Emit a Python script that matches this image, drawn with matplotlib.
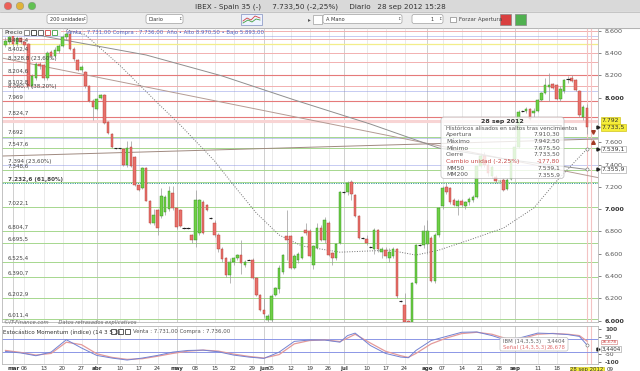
import numpy as np
import matplotlib
matplotlib.use('Agg')
import matplotlib.pyplot as plt
import matplotlib.transforms as mtransforms
from matplotlib.patches import Rectangle, FancyBboxPatch

W, H = 640, 371

# IBEX 35 diario, 28 feb - 28 sep 2012 (todos los dias laborables)
opn = [8470, 8500, 8550, 8480, 8530, 8500, 8480, 8100, 8180, 8300, 8290, 8175, 8410, 8370, 8420, 8460, 8540, 8570,
       8440, 8340, 8250, 8230, 8100, 7970, 7900, 8000, 8020, 7780, 7670, 7545, 7545, 7535, 7400, 7555, 7470, 7215,
       7190, 7370, 7075, 6880, 6990, 6940, 6970, 7000, 7145, 7010, 6990, 6830, 6830, 6770, 6720, 6790, 7060, 7040,
       6920, 6880, 6770, 6640, 6560, 6410, 6530, 6560, 6590, 6500, 6545, 6545, 6380, 6230, 6100, 6010, 6010, 6230,
       6280, 6440, 6760, 6760, 6470, 6540, 6560, 6810, 6800, 6500, 6650, 6830, 6720, 6880, 6610, 6560, 6700, 7150,
       7150, 7240, 7130, 6940, 6740, 6730, 6660, 6640, 6810, 6620, 6630, 6560, 6580, 6640, 6175, 6140, 6000, 5970,
       6340, 6680, 6680, 6690, 6740, 6360, 6770, 7030, 7200, 7190, 7080, 7030, 7070, 7030, 7060, 7080, 7110, 7390,
       7480, 7400, 7300, 7290, 7250, 7260, 7180, 7270, 7450, 7560, 7880, 7880, 7900, 7860, 7880, 7980, 8040, 8095,
       8120, 8110, 7990, 8060, 8165, 8180, 8160, 8060, 7830, 7910.3]
high = [8540, 8560, 8580, 8550, 8545, 8520, 8490, 8210, 8320, 8320, 8300, 8420, 8430, 8450, 8480, 8560, 8590, 8610,
        8450, 8350, 8290, 8240, 8110, 7990, 8000, 8030, 8030, 7790, 7680, 7550, 7550, 7540, 7610, 7610, 7480, 7220,
        7380, 7380, 7080, 7000, 7000, 7190, 7130, 7210, 7210, 7020, 7000, 6840, 6840, 6780, 7170, 7090, 7080, 7050,
        6930, 6900, 6790, 6660, 6570, 6560, 6570, 6600, 6720, 6540, 6550, 6560, 6390, 6240, 6200, 6060, 6240, 6300,
        6500, 6600, 6990, 6770, 6600, 6620, 6760, 6880, 6820, 6680, 6880, 6860, 6930, 6890, 6620, 6700, 7160, 7160,
        7250, 7260, 7140, 6950, 6750, 6770, 6670, 6830, 6820, 6660, 6660, 6650, 6660, 6650, 6185, 6250, 6010, 6350,
        6690, 6690, 6860, 6900, 6760, 6790, 7020, 7210, 7230, 7200, 7100, 7090, 7090, 7070, 7110, 7130, 7400, 7500,
        7510, 7420, 7400, 7310, 7260, 7280, 7280, 7450, 7580, 7890, 7890, 7920, 7910, 7910, 7990, 8050, 8180, 8220,
        8130, 8120, 8100, 8170, 8190, 8200, 8170, 8070, 7930, 7942.5]
low = [8450, 8480, 8460, 8460, 8480, 8440, 8080, 8090, 8160, 8260, 8160, 8160, 8350, 8360, 8400, 8450, 8520, 8430,
       8330, 8240, 8230, 8090, 7960, 7800, 7890, 7990, 7760, 7670, 7550, 7540, 7540, 7390, 7380, 7380, 7210, 7160,
       7180, 7070, 6870, 6860, 6770, 6920, 6950, 6980, 6990, 6820, 6840, 6820, 6820, 6700, 6660, 6770, 6780, 6980,
       6910, 6750, 6620, 6530, 6390, 6340, 6500, 6540, 6420, 6480, 6540, 6370, 6220, 6090, 6030, 5990, 5990, 6220,
       6250, 6420, 6540, 6460, 6460, 6520, 6550, 6770, 6570, 6460, 6640, 6710, 6700, 6580, 6500, 6540, 6690, 7140,
       7130, 7080, 6930, 6730, 6730, 6680, 6650, 6600, 6620, 6560, 6560, 6530, 6560, 6200, 6165, 5960, 5950, 5960,
       6330, 6670, 6650, 6600, 6350, 6340, 6750, 7000, 7140, 7050, 7030, 6950, 7020, 7000, 7040, 7060, 7100, 7370,
       7380, 7300, 7280, 7230, 7245, 7160, 7170, 7260, 7440, 7550, 7870, 7860, 7800, 7830, 7870, 7970, 8030, 7970,
       8080, 7980, 7970, 8040, 8130, 8140, 8060, 7830, 7800, 7675.5]
close = [8510, 8540, 8480, 8530, 8500, 8470, 8100, 8190, 8300, 8280, 8175, 8400, 8370, 8430, 8460, 8540, 8570, 8440,
         8350, 8250, 8275, 8100, 7970, 7915, 7990, 8020, 7770, 7680, 7560, 7545, 7545, 7400, 7545, 7390, 7215, 7170,
         7370, 7075, 6880, 6950, 6830, 7120, 7110, 7160, 7010, 6840, 6850, 6830, 6830, 6720, 7080, 7080, 6790, 6990,
         6920, 6770, 6640, 6550, 6410, 6530, 6560, 6590, 6520, 6530, 6545, 6380, 6230, 6100, 6060, 6040, 6220, 6290,
         6470, 6590, 6720, 6470, 6580, 6600, 6750, 6790, 6580, 6670, 6830, 6720, 6900, 6590, 6560, 6690, 7150, 7150,
         7230, 7140, 6940, 6740, 6740, 6700, 6660, 6810, 6640, 6640, 6580, 6620, 6640, 6220, 6175, 5990, 5970, 6340,
         6680, 6680, 6800, 6800, 6360, 6770, 7010, 7190, 7150, 7060, 7040, 7070, 7040, 7060, 7090, 7110, 7390, 7480,
         7400, 7320, 7380, 7250, 7255, 7170, 7260, 7440, 7560, 7870, 7880, 7900, 7810, 7880, 7980, 8040, 8110, 8115,
         8090, 7990, 8080, 8160, 8165, 8150, 8070, 7840, 7911.3, 7733.5]

# medias moviles (indice de sesion, valor)
mm50_idx = [10, 17, 21, 30, 40, 46, 55, 60, 66, 72, 78, 88, 101, 108, 114, 122, 131, 139, 145, 150, 153]
mm50_val = [8700, 8600, 8561, 8292, 7952, 7754, 7432, 7216, 6965, 6768, 6670, 6614, 6632, 6588, 6632, 6723,
            6830, 7010, 7252, 7432, 7539.1]
mm200_idx = [-1, 11, 37, 57, 76, 96, 114, 133, 153]
mm200_val = [8640, 8544, 8382, 8194, 7979, 7763, 7548, 7441, 7355.9]

# lineas de tendencia
trend_a_idx, trend_a_val = [-1, 157], [8355, 7275]
trend_b_idx, trend_b_val = [-1, 157], [7476, 7630]

# niveles horizontales
red_levels = [8204.6, 7969, 7824.7]
pink_levels = [8600, 8523.4, 8402.4, 8320, 8102.8]
band_level = 7792
yellow_level = 8481.4
green_levels = [7650, 7547.6, 7348.6, 7240, 7022.1, 6804.7, 6695.5, 6525.4, 6390.7, 6202.9, 6011.4]
fib_levels = [8555, 8060.7, 7640, 7394]
fib_teal = 7232.6

level_labels = ['8.481,4', '8.402,4', '8.328,8 (23,60%)', '8.204,6', '8.102,8', '8.060,7 (38,20%)', '7.969',
                '7.824,7', '7.692', '7.547,6', '7.394 (23,60%)', '7.348,6', '7.232,6 (61,80%)', '7.022,1',
                '6.804,7', '6.695,5', '6.525,4', '6.390,7', '6.202,9', '6.011,4']
level_label_val = [8481.4, 8402.4, 8320, 8204.6, 8102.8, 8060.7, 7969, 7824.7, 7650, 7547.6, 7394, 7348.6,
                   7232.6, 7022.1, 6804.7, 6695.5, 6525.4, 6390.7, 6202.9, 6011.4]

price_ticks = [8600, 8400, 8200, 8000, 7600, 7400, 7200, 7000, 6800, 6600, 6400, 6200, 6000]

# estocastico momentum
osc_idx = [0, 4, 8, 12, 16, 20, 24, 28, 32, 36, 40, 44, 48, 52, 56, 60, 64, 68, 72, 76, 80, 84, 88, 90, 92,
           96, 100, 104, 106, 108, 112, 116, 120, 124, 128, 132, 136, 140, 144, 148, 151, 153]
ibm = [-36, -45, -62, -40, 35, -15, -60, -76, -88, -76, -60, -40, -30, -28, -38, -58, -70, -78, -40, 25, 33,
       33, 20, 60, 75, 0, -48, -70, -74, -30, 30, 55, 80, 82, 60, 30, 50, 75, 72, 66, 55, 3.4404]
senal = [-30, -42, -58, -48, 20, 5, -50, -72, -84, -80, -65, -48, -34, -28, -34, -52, -66, -76, -55, 10, 30,
         34, 24, 45, 68, 15, -35, -62, -72, -48, 10, 45, 72, 80, 68, 40, 42, 68, 73, 68, 60, 26.678]

tick_idx = [2, 5, 10, 15, 20, 24, 30, 35, 40, 45, 50, 55, 60, 65, 68, 70, 75, 80, 85, 89, 95, 100, 105, 111,
            115, 120, 125, 130, 134, 140, 145]
tick_lab = ['mar', '06', '13', '20', '27', 'abr', '10', '17', '24', 'may', '08', '15', '22', '29', 'jun', '05',
            '12', '19', '26', 'jul', '10', '17', '24', 'ago', '07', '14', '21', '28', 'sep', '11', '18']
months = {'mar', 'abr', 'may', 'jun', 'jul', 'ago', 'sep'}


def es(v, dec=0):
    s = f"{v:,.{dec}f}"
    return s.replace(',', 'X').replace('.', ',').replace('X', '.')


def fx(px):
    return px / W


def fy(py):
    return 1 - py / H


fig = plt.figure(figsize=(6.4, 3.71), dpi=100)
fig.patch.set_facecolor('white')

# fondo / ventana
bg = fig.add_axes([0, 0, 1, 1], zorder=0)
bg.set_xlim(0, W); bg.set_ylim(H, 0); bg.axis('off')
bg.add_patch(Rectangle((0, 0), W, 12, color='#d9d9d9'))
bg.add_patch(Rectangle((0, 12), W, 16, color='#ececec'))
bg.plot([0, W], [12, 12], color='#b5b5b5', lw=0.5)
bg.plot([0, W], [27.5, 27.5], color='#a8a8a8', lw=0.6)
bg.scatter([8, 20, 32], [6, 6, 6], s=30, c=['#ec5f57', '#e0b33a', '#62c153'], edgecolors='#888', linewidths=0.3)
bg.text(320, 6.5, 'IBEX - Spain 35 (-)     7.733,50 (-2,25%)     Diario   28 sep 2012 15:28',
        ha='center', va='center', fontsize=5.2, color='#333')


def box(x0, x1, text=None, arrow=True, align='left'):
    bg.add_patch(FancyBboxPatch((x0, 14.5), x1 - x0, 9, boxstyle='round,pad=0,rounding_size=2',
                                fc='white', ec='#a0a0a0', lw=0.5))
    if text:
        if align == 'left':
            bg.text(x0 + 2.5, 19.2, text, fontsize=3.6, va='center', color='#333')
        else:
            bg.text(x1 - 9, 19.2, text, fontsize=3.6, va='center', ha='right', color='#333')
    if arrow:
        bg.text(x1 - 3, 19.2, '\u2195', fontsize=3.2, va='center', ha='center', color='#555')


box(47, 87, '200 unidades')
box(146, 183, 'Diario')
box(323, 402, 'A Mano')
box(412, 443, '1', align='right')
bg.add_patch(Rectangle((241, 13.5), 21, 11, fc='#eef3ff', ec='#8090c0', lw=0.5))
bg.plot([243, 247, 251, 255, 260], [21, 18, 20, 16, 18], color='#d04040', lw=0.6)
bg.plot([243, 248, 252, 256, 260], [23, 20, 22, 19, 20], color='#40a040', lw=0.6)
bg.text(308, 19.2, '\u25b8', fontsize=4, va='center', color='#555')
bg.add_patch(Rectangle((312.5, 14.5), 9, 9, fc='white', ec='#a0a0a0', lw=0.5))
bg.add_patch(Rectangle((450, 16.5), 5.5, 5.5, fc='white', ec='#888', lw=0.5))
bg.text(459, 19.3, 'Forzar Apertura', fontsize=4, va='center', color='#444')
bg.add_patch(Rectangle((500, 14), 11, 11, fc='#d94040', ec='#888', lw=0.5))
bg.add_patch(Rectangle((515, 14), 11, 11, fc='#50b050', ec='#888', lw=0.5))

# panel de precio
ax = fig.add_axes([fx(2), fy(322), fx(598) - fx(2), (322 - 28) / H], zorder=2)
ax.set_xlim(-0.92, 155.9)
ax.set_ylim(5988, 8624)
ax.set_facecolor('none')

for t, lab in zip(tick_idx, tick_lab):
    ax.axvline(t, color='#c8c8c8' if lab in months else '#e6e6e6', lw=0.6, zorder=0)

for v in pink_levels:
    ax.axhline(v, color='#f2b0b0', lw=0.7, zorder=1)
for v in red_levels:
    ax.axhline(v, color='#e57a7a', lw=0.8, zorder=1)
ax.axhline(band_level, color='#f8d4d4', lw=2.2, zorder=1)
ax.axhline(yellow_level, color='#f2ee8a', lw=0.9, zorder=1)
for v in green_levels:
    ax.axhline(v, color='#a6d78e', lw=0.7, zorder=1)
for v in fib_levels:
    ax.axhline(v, color='#7a86e0', lw=0.6, ls=(0, (1.2, 1.2)), zorder=1)
ax.axhline(fib_teal, color='#3a9a9a', lw=0.7, ls=(0, (1.2, 1.2)), zorder=1)

ax.plot(trend_a_idx, trend_a_val, color='#b49b94', lw=0.7, zorder=2)
ax.plot(trend_b_idx, trend_b_val, color='#a08a80', lw=0.7, zorder=2)
ax.plot(mm200_idx, mm200_val, color='#8f8f8f', lw=0.7, zorder=2)
ax.plot(mm50_idx, mm50_val, color='#707070', lw=0.7, ls=(0, (1, 1.6)), zorder=2)
ax.scatter([mm50_idx[-1], mm200_idx[-1]], [mm50_val[-1], mm200_val[-1]], s=5, fc='white', ec='#666',
           lw=0.4, zorder=6)

for v in [153, 154.05]:
    ax.axvline(v, color='#f3c3c3', lw=0.8, zorder=1)

idx = np.arange(len(close))
o, h, l, c = (np.array(a, dtype=float) for a in (opn, high, low, close))
up, dn, flat = c > o, c < o, c == o
ax.vlines(idx, l, h, color='#9a9a9a', lw=0.5, zorder=3)
ax.bar(idx[up], (c - o)[up], bottom=o[up], width=0.68, color='#6fd046', edgecolor='#2e8a1e', lw=0.3, zorder=4)
ax.bar(idx[dn], (o - c)[dn], bottom=c[dn], width=0.68, color='#e8716b', edgecolor='#b13a34', lw=0.3, zorder=4)
ax.hlines(c[flat], idx[flat] - 0.45, idx[flat] + 0.45, color='#222', lw=0.8, zorder=4)

ax.plot([154.6], [7690], marker='v', ms=2.6, color='#a33a25', zorder=6, clip_on=False)
ax.plot([154.6], [7600], marker='^', ms=2.6, color='#a33a25', zorder=6, clip_on=False)

tb = mtransforms.blended_transform_factory(ax.transAxes, ax.transData)
for lab, v in zip(level_labels, level_label_val):
    ax.text(0.01, v + 12, lab, transform=tb, fontsize=4.1, color='#444', va='bottom', zorder=7,
            fontweight='bold' if '61,80' in lab else 'normal')

ax.set_xticks([])
ax.yaxis.tick_right()
ax.set_yticks(price_ticks)
ax.set_yticklabels([es(v) for v in price_ticks])
ax.tick_params(axis='y', length=2, width=0.5, pad=3, labelsize=4.6, colors='#555')
for tl, v in zip(ax.get_yticklabels(), price_ticks):
    if v % 1000 == 0:
        tl.set_fontweight('bold')
        tl.set_color('#333')
for s in ax.spines.values():
    s.set_color('#b8b8b8'); s.set_linewidth(0.6)

ax.text(1.006, 7792, '7.792', transform=tb, fontsize=4.4, va='center', color='#333', clip_on=False,
        bbox=dict(boxstyle='square,pad=0.15', fc='#f5ee3a', ec='#c8b800', lw=0.4))
ax.text(1.006, close[-1], es(close[-1], 1), transform=tb, fontsize=4.4, va='center', color='#333',
        clip_on=False, bbox=dict(boxstyle='square,pad=0.15', fc='#f5ee3a', ec='#c8b800', lw=0.4))
for v in [mm50_val[-1], mm200_val[-1]]:
    ax.text(1.006, v, es(v, 1), transform=tb, fontsize=4.4, va='center', color='#333', clip_on=False,
            bbox=dict(boxstyle='square,pad=0.15', fc='white', ec='#999', lw=0.4))
for v in [close[-1], mm50_val[-1], mm200_val[-1]]:
    ax.plot([155.9], [v], marker='>', ms=2.2, color='#222', clip_on=False, zorder=8)

# panel inferior
ax2 = fig.add_axes([fx(2), fy(364), fx(598) - fx(2), (364 - 326) / H], zorder=2)
ax2.set_xlim(-0.92, 155.9)
ax2.set_ylim(-112, 118)
for t, lab in zip(tick_idx, tick_lab):
    ax2.axvline(t, color='#c8c8c8' if lab in months else '#e6e6e6', lw=0.6, zorder=0)
for v in [153, 154.05]:
    ax2.axvline(v, color='#f3c3c3', lw=0.8, zorder=1)
ax2.axhline(40, color='#8c96e6', lw=0.7)
ax2.axhline(-40, color='#8c96e6', lw=0.7)
ax2.plot(osc_idx, senal, color='#e49a9a', lw=0.9, zorder=3)
ax2.plot(osc_idx, ibm, color='#7482d2', lw=0.7, zorder=4)
ax2.scatter([osc_idx[-1]], [ibm[-1]], s=5, fc='white', ec='#666', lw=0.4, zorder=5)
ax2.yaxis.tick_right()
ax2.set_yticks([100, 50, -50, -100])
ax2.set_yticklabels(['100', '50', '-50', '-100'])
ax2.tick_params(axis='y', length=2, width=0.5, pad=3, labelsize=4.2, colors='#444')
ax2.get_yticklabels()[0].set_fontweight('bold')
ax2.get_yticklabels()[3].set_fontweight('bold')
ax2.set_xticks(tick_idx)
ax2.set_xticklabels(tick_lab)
ax2.tick_params(axis='x', length=0, pad=1.5, labelsize=4.0, colors='#333')
for tl in ax2.get_xticklabels():
    if tl.get_text() in months:
        tl.set_fontweight('bold')
for s in ax2.spines.values():
    s.set_color('#b8b8b8'); s.set_linewidth(0.6)
tb2 = mtransforms.blended_transform_factory(ax2.transAxes, ax2.transData)
ax2.text(1.006, 20, es(senal[-1], 3), transform=tb2, fontsize=3.2, va='center', color='#d04040',
         clip_on=False, bbox=dict(boxstyle='square,pad=0.05', fc='white', ec='#d07070', lw=0.4))
ax2.text(1.006, -20, es(ibm[-1], 4), transform=tb2, fontsize=4.0, va='center', color='#333',
         clip_on=False, bbox=dict(boxstyle='square,pad=0.1', fc='white', ec='#999', lw=0.4))
ax2.plot([155.9], [-20], marker='>', ms=2.2, color='#222', clip_on=False)
ax2.text(159, -148, '09', transform=ax2.transData, fontsize=4.0, color='#333', ha='center', va='center',
         clip_on=False)
ax2.text(153, -148, '28 sep 2012', fontsize=3.9, color='#333', ha='center', va='center', clip_on=False,
         bbox=dict(boxstyle='square,pad=0.15', fc='#f5ee3a', ec='#c8b800', lw=0.4))

# capa superior: cabeceras y ventana de datos
ov = fig.add_axes([0, 0, 1, 1], zorder=10)
ov.set_xlim(0, W); ov.set_ylim(H, 0); ov.axis('off'); ov.patch.set_alpha(0)
ov.add_patch(Rectangle((2.5, 28.5), 58, 7, fc='#f4f4f4', ec='none'))
ov.text(4, 32.3, 'Precio', fontsize=4.3, va='center', color='#333')
for k, col in enumerate(['#777', '#333', '#555', '#d04040', '#40a040']):
    ov.add_patch(Rectangle((24 + 7 * k, 29.5), 5, 5, fc='white', ec=col, lw=0.6))
ov.text(66, 32.3, 'Venta : 7.731,00 Compra : 7.736,00  A\u00f1o \u2022 Alto 8.970,50 \u2022 Bajo 5.893,00',
        fontsize=3.9, va='center', color='#4a62c4')
ov.text(4, 322.6, '\u00a9IT-Finance.com      Datos retrasados explicativos', fontsize=3.8, va='center',
        color='#666', style='italic')
ov.text(3, 331.8, 'Estoc\u00e1stico Momentum (\u00edndice) (14 3 5 3)', fontsize=4.1, va='center', color='#333')
for k in range(3):
    ov.add_patch(Rectangle((111 + 7 * k, 329.3), 5, 5, fc='white', ec='#444', lw=0.6))
ov.text(133, 331.8, 'Venta : 7.731,00 Compra : 7.736,00', fontsize=3.9, va='center', color='#555')

ov.add_patch(FancyBboxPatch((441, 117), 123, 61.5, boxstyle='round,pad=0,rounding_size=3',
                            fc='white', ec='#b5b5b5', lw=0.6, alpha=0.8))
ov.text(502.5, 121.8, '28 sep 2012', fontsize=4.5, ha='center', va='center', color='#333', fontweight='bold')
ov.plot([444, 561], [125.4, 125.4], color='#c0c0c0', lw=0.5)
ov.text(446, 128.6, 'Hist\u00f3ricos alisados en saltos tras vencimientos', fontsize=4.1, va='center', color='#555')
rows = [('Apertura', es(opn[-1], 2)), ('M\u00e1ximo', es(high[-1], 2)), ('M\u00ednimo', es(low[-1], 2)),
        ('Cierre', es(close[-1], 2)),
        ('Cambio unidad (' + es((close[-1] / close[-2] - 1) * 100, 2) + '%)', es(close[-1] - close[-2], 2)),
        ('MM50', es(mm50_val[-1], 1)), ('MM200', es(mm200_val[-1], 1))]
for k, (name, val) in enumerate(rows):
    yy = 134.6 + 6.7 * k
    col = '#c84a4a' if k == 4 else '#555'
    ov.text(446, yy, name, fontsize=4.3, va='center', color=col)
    ov.text(560, yy, val, fontsize=4.3, va='center', ha='right', color=col)

ov.add_patch(FancyBboxPatch((500, 337.5), 68, 13.5, boxstyle='round,pad=0,rounding_size=2',
                            fc='white', ec='#b5b5b5', lw=0.5, alpha=0.9))
ov.text(503, 341.3, 'IBM (14,3,5,3)', fontsize=3.9, va='center', color='#666')
ov.text(565, 341.3, es(ibm[-1], 4), fontsize=3.9, va='center', ha='right', color='#666')
ov.text(503, 347.5, 'Se\u00f1al (14,3,5,3)', fontsize=3.9, va='center', color='#e07070')
ov.text(565, 347.5, es(senal[-1], 3), fontsize=3.9, va='center', ha='right', color='#e07070')

fig.savefig('out.png', dpi=100)
